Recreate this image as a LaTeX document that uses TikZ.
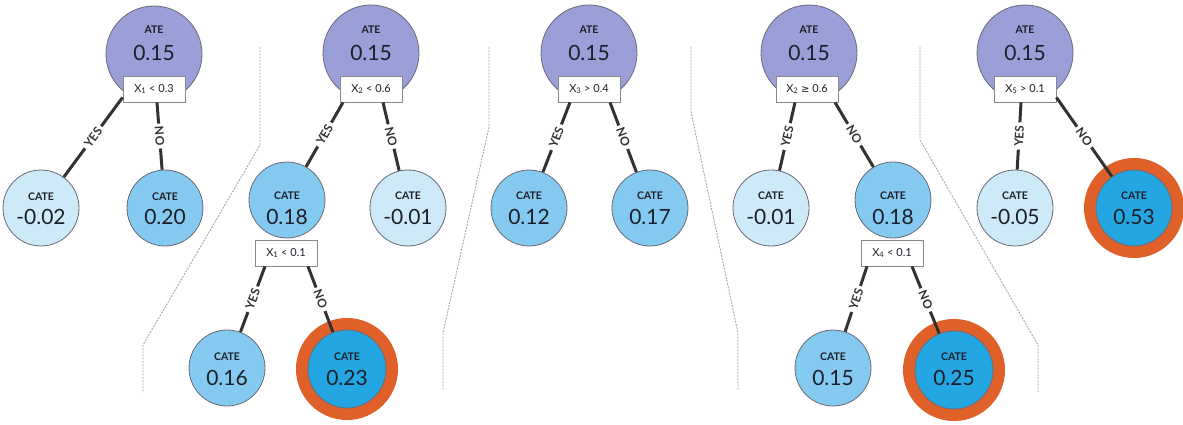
\documentclass[tikz,border=0pt]{standalone}
\usepackage{fontspec}
\setmainfont{Lato}
\newfontfamily\symfont{DejaVu Sans}
\usetikzlibrary{calc}
\definecolor{atec}{RGB}{155,159,215}
\definecolor{lightc}{RGB}{206,234,248}
\definecolor{medc}{RGB}{132,201,240}
\definecolor{darkc}{RGB}{36,166,226}
\definecolor{ringc}{RGB}{224,96,42}
\definecolor{edgec}{RGB}{50,50,50}
\definecolor{borderc}{RGB}{105,105,118}
\definecolor{sepc}{RGB}{165,165,165}
\definecolor{txtc}{RGB}{30,30,40}
\tikzset{
  circ/.style={circle, draw=borderc, line width=0.8pt, inner sep=0pt, minimum size=#1},
  atenode/.style={circ=96pt, fill=atec},
  lightnode/.style={circ=76pt, fill=lightc},
  mednode/.style={circ=76pt, fill=medc},
  darknode/.style={circ=78pt, fill=darkc},
  cond/.style={draw=borderc!80, fill=white, line width=0.8pt, minimum width=62pt,
    minimum height=26pt, inner sep=0pt, text=txtc, font=\fontsize{11}{11}\selectfont},
  lbl/.style={font=\bfseries\fontsize{10.5}{10.5}\selectfont, text=txtc, inner sep=0pt},
  num/.style={font=\fontsize{21}{21}\selectfont, text=txtc, inner sep=0pt},
  edge/.style={draw=edgec, line width=3pt},
  yn/.style={font=\bfseries\fontsize{12}{12}\selectfont, text=edgec, fill=white,
    inner sep=3pt, sloped, pos=0.5},
  sepline/.style={draw=sepc, line width=0.9pt, dash pattern=on 2pt off 1.2pt},
  ringline/.style={draw=ringc, line width=12pt},
}
\newcommand\mytxt[5]{% name, x, label y, number y, number
  \node[lbl] (#1-l) at (#2,#3) {CATE};
  \node[num] (#1-n) at (#2,#4) {#5};
}
\newcommand\atetxt[2]{%
  \node[lbl] (#1-l) at (#2,30) {ATE};
  \node[num] (#1-n) at (#2,53) {0.15};
}
\begin{document}
\begin{tikzpicture}[x=1pt,y=-1pt]
\useasboundingbox (0,0) rectangle (1183,425);

% separators
\draw[sepline] (260,47) -- (260,145) -- (143,345) -- (143,393);
\draw[sepline] (489,47) -- (489,127) -- (443,333) -- (443,390);
\draw[sepline] (691,47) -- (691,112) -- (738,333) -- (738,390);
\draw[sepline] (920,47) -- (920,140) -- (1038,345) -- (1038,393);

% ATE circles
\node[atenode] (a1) at (154,54) {};
\node[atenode] (a2) at (371,53) {};
\node[atenode] (a3) at (589,53) {};
\node[atenode] (a4) at (809,53) {};
\node[atenode] (a5) at (1025,53) {};

% rings
\draw[ringline] (347,369) circle[radius=45];
\draw[ringline] (954,370) circle[radius=45];
\draw[ringline] (1134,208) circle[radius=44];

% children
\node[lightnode] (c11) at (41,208) {};
\node[mednode]   (c12) at (165,208) {};
\node[mednode]   (c21) at (287,200) {};
\node[lightnode] (c22) at (408,208) {};
\node[mednode]   (c23) at (227,368) {};
\node[darknode]  (c24) at (347,369) {};
\node[mednode]   (c31) at (529,208) {};
\node[mednode]   (c32) at (650,208) {};
\node[lightnode] (c41) at (771,208) {};
\node[mednode]   (c42) at (893,200) {};
\node[mednode]   (c43) at (833,368) {};
\node[darknode]  (c44) at (954,370) {};
\node[lightnode] (c51) at (1015,208) {};
\node[darknode,minimum size=76pt] (c52) at (1134,208) {};

% condition boxes
\node[cond] (b1)  at (154,89)  {X\textsubscript{1} < 0.3};
\node[cond] (b2)  at (371,89)  {X\textsubscript{2} < 0.6};
\node[cond] (b2b) at (286,253) {X\textsubscript{1} < 0.1};
\node[cond] (b3)  at (589,89)  {X\textsubscript{3} > 0.4};
\node[cond] (b4)  at (807,89)  {X\textsubscript{2} {\symfont\fontsize{10}{10}\selectfont ≥} 0.6};
\node[cond] (b4b) at (892,253) {X\textsubscript{4} < 0.1};
\node[cond] (b5)  at (1025,89) {X\textsubscript{5} > 0.1};

% edges
\draw[edge] ([yshift=5pt]b1.south west) -- (c11) node[yn] {YES};
\draw[edge] ([xshift=3pt]b1.south) -- (c12) node[yn] {NO};
\draw[edge] ([xshift=-28pt]b2.south) -- (c21) node[yn] {YES};
\draw[edge] ([xshift=12pt]b2.south) -- (c22) node[yn] {NO};
\draw[edge] ([xshift=-21pt]b2b.south) -- (c23) node[yn] {YES};
\draw[edge] ([xshift=22pt]b2b.south) -- (c24) node[yn] {NO};
\draw[edge] ([xshift=-19pt]b3.south) -- (c31) node[yn] {YES};
\draw[edge] ([xshift=21pt]b3.south) -- (c32) node[yn] {NO};
\draw[edge] ([xshift=-12pt]b4.south) -- (c41) node[yn] {YES};
\draw[edge] ([xshift=28pt]b4.south) -- (c42) node[yn] {NO};
\draw[edge] ([xshift=-25pt]b4b.south) -- (c43) node[yn] {YES};
\draw[edge] ([xshift=20pt]b4b.south) -- (c44) node[yn] {NO};
\draw[edge] ([xshift=-4pt]b5.south) -- (c51) node[yn] {YES};
\draw[edge] ([yshift=5pt]b5.south east) -- (c52) node[yn] {NO};

% texts
\atetxt{a1}{154}
\atetxt{a2}{371}
\atetxt{a3}{589}
\atetxt{a4}{809}
\atetxt{a5}{1025}
\mytxt{c11}{41}{197}{217}{-0.02}
\mytxt{c12}{165}{197}{217}{0.20}
\mytxt{c21}{287}{196}{217}{0.18}
\mytxt{c22}{408}{196}{217}{-0.01}
\mytxt{c23}{227}{357}{378}{0.16}
\mytxt{c24}{347}{357}{378}{0.23}
\mytxt{c31}{529}{196}{217}{0.12}
\mytxt{c32}{650}{196}{217}{0.17}
\mytxt{c41}{771}{196}{217}{-0.01}
\mytxt{c42}{893}{196}{217}{0.18}
\mytxt{c43}{833}{357}{378}{0.15}
\mytxt{c44}{954}{357}{378}{0.25}
\mytxt{c51}{1015}{196}{217}{-0.05}
\mytxt{c52}{1134}{196}{217}{0.53}
\end{tikzpicture}
\end{document}
